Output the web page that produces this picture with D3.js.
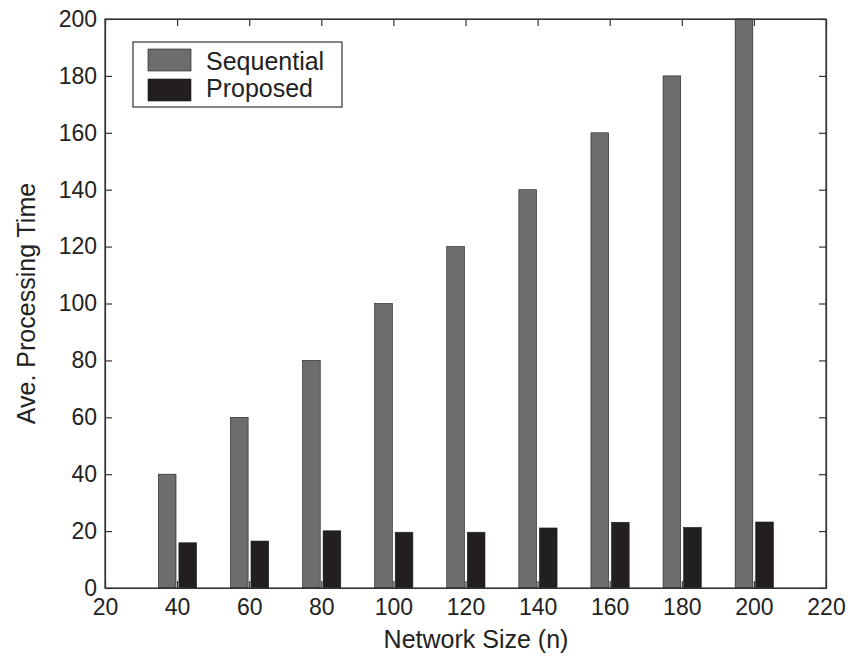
<!DOCTYPE html>
<html lang="en">
<head>
    <meta charset="UTF-8">
    <script src="https://d3js.org/d3.v7.min.js"></script>
    <title>Ave. Processing Time</title>
    <style>
        body{ margin: 0; background-color: #fff; }
        text{ font-family: "Liberation Sans", Arial, sans-serif; fill: #222; }
    </style>
</head>
<body>
    <div id="chart"></div>
<script>
// data
const sizes = [40, 60, 80, 100, 120, 140, 160, 180, 200];
const sequential = [40, 60, 80, 100, 120, 140, 160, 180, 200];
const proposed = [15.9, 16.5, 20.1, 19.6, 19.6, 21.1, 23.1, 21.3, 23.2];
const xTicks = [20, 40, 60, 80, 100, 120, 140, 160, 180, 200, 220];
const yTicks = [0, 20, 40, 60, 80, 100, 120, 140, 160, 180, 200];
const seriesNames = ["Sequential", "Proposed"];
const colors = ["#6d6d6d", "#231f20"];

const svg = d3.select("#chart").append("svg").attr("width", 853).attr("height", 656);
const margin = { top: 19, left: 105, right: 27, bottom: 68 };
const width = 853 - margin.left - margin.right;
const height = 656 - margin.top - margin.bottom;
const chart = svg.append("g").attr("transform", `translate(${margin.left},${margin.top})`);

const x = d3.scaleLinear().domain([20, 220]).range([0, width]);
const y = d3.scaleLinear().domain([0, 200]).range([height, 0]);

// bars (grouped, matlab style)
const barW = 4.9;
const offsets = [-5.2, 0.5];
[sequential, proposed].forEach((vals, s) => {
    chart.append("g").selectAll("rect").data(vals).enter().append("rect")
        .attr("x", (d, i) => x(sizes[i] + offsets[s]))
        .attr("width", x(20 + barW) - x(20))
        .attr("y", d => y(d))
        .attr("height", d => y(0) - y(d))
        .attr("fill", colors[s])
        .attr("stroke", "#1a1a1a")
        .attr("stroke-width", 0.6);
});

// axes with inward ticks, box around
const tick = 7;
chart.append("g").attr("transform", `translate(0,${height})`)
    .call(d3.axisBottom(x).tickValues(xTicks).tickSizeInner(-tick).tickSizeOuter(0).tickPadding(11));
chart.append("g")
    .call(d3.axisTop(x).tickValues(xTicks).tickSizeInner(-tick).tickSizeOuter(0).tickFormat(""));
chart.append("g")
    .call(d3.axisLeft(y).tickValues(yTicks).tickSizeInner(-tick).tickSizeOuter(0).tickPadding(8));
chart.append("g").attr("transform", `translate(${width},0)`)
    .call(d3.axisRight(y).tickValues(yTicks).tickSizeInner(-tick).tickSizeOuter(0).tickFormat(""));
chart.selectAll(".domain, .tick line").attr("stroke", "#333").attr("stroke-width", 1.2);
chart.selectAll(".tick text").attr("font-size", 23).attr("fill", "#222")
    .attr("font-family", "Liberation Sans, Arial, sans-serif");

chart.append("rect").attr("width", width).attr("height", height)
    .attr("fill", "none").attr("stroke", "#333").attr("stroke-width", 1.2);

// axis titles
svg.append("text").attr("x", 476).attr("y", 648)
    .attr("text-anchor", "middle").attr("font-size", 25).text("Network Size (n)");
svg.append("text").attr("transform", `translate(35,${margin.top + height / 2}) rotate(-90)`)
    .attr("text-anchor", "middle").attr("font-size", 25).text("Ave. Processing Time");

// legend
const lg = svg.append("g").attr("transform", "translate(133,42)");
lg.append("rect").attr("width", 209).attr("height", 65)
    .attr("fill", "#fff").attr("stroke", "#333").attr("stroke-width", 1.2);
seriesNames.forEach((name, i) => {
    lg.append("rect").attr("x", 15).attr("y", 7 + i * 30).attr("width", 43).attr("height", 22)
        .attr("fill", colors[i]).attr("stroke", "#1a1a1a").attr("stroke-width", 0.6);
    lg.append("text").attr("x", 73).attr("y", 28 + i * 27).attr("font-size", 25).text(name);
});
</script>
</body>
</html>
